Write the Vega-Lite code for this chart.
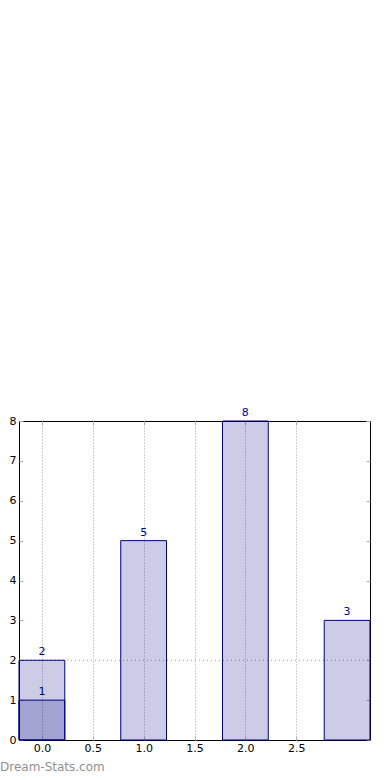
{
  "$schema": "https://vega.github.io/schema/vega-lite/v6.json",
  "width": 351,
  "height": 319,
  "autosize": {"type": "none"},
  "padding": {"left": 19, "top": 421, "right": 20, "bottom": 40},
  "background": "white",
  "config": {
    "view": {"stroke": "black", "strokeWidth": 1},
    "axis": {
      "domain": false,
      "labelFont": "DejaVu Sans",
      "labelFontSize": 11,
      "labelColor": "black",
      "tickColor": "#b0b0b0",
      "tickSize": -4,
      "tickWidth": 1,
      "title": null
    }
  },
  "title": {
    "text": "Dream-Stats.com",
    "orient": "bottom",
    "anchor": "start",
    "frame": "group",
    "dx": -19,
    "offset": 9,
    "font": "DejaVu Sans",
    "fontSize": 12,
    "fontWeight": "normal",
    "color": "#909090"
  },
  "datasets": {
    "bars": [
      {"lo": -0.225, "hi": 0.225, "c": 0, "v": 2},
      {"lo": -0.225, "hi": 0.225, "c": 0, "v": 1},
      {"lo": 0.775, "hi": 1.225, "c": 1, "v": 5},
      {"lo": 1.775, "hi": 2.225, "c": 2, "v": 8},
      {"lo": 2.775, "hi": 3.225, "c": 3, "v": 3}
    ],
    "hline": [{"y": 2, "a": -0.225, "b": 3.225}]
  },
  "layer": [
    {
      "data": {"name": "hline"},
      "mark": {"type": "rule", "strokeDash": [1, 3], "color": "#a0a0a0", "strokeWidth": 1},
      "encoding": {
        "x": {"field": "a", "type": "quantitative", "scale": {"domain": [-0.225, 3.225], "nice": false, "zero": false},
              "axis": {"orient": "top", "labels": false, "values": [0, 0.5, 1, 1.5, 2, 2.5], "grid": false}},
        "x2": {"field": "b"},
        "y": {"field": "y", "type": "quantitative", "scale": {"domain": [0, 8], "nice": false},
              "axis": {"orient": "right", "labels": false, "values": [0, 1, 2, 3, 4, 5, 6, 7, 8], "grid": false}}
      }
    },
    {
      "data": {"name": "bars"},
      "mark": {"type": "bar", "fill": "#000080", "fillOpacity": 0.2, "stroke": "#000080", "strokeWidth": 1},
      "encoding": {
        "x": {"field": "lo", "type": "quantitative", "scale": {"domain": [-0.225, 3.225], "nice": false, "zero": false},
              "axis": {"orient": "bottom", "values": [0, 0.5, 1, 1.5, 2, 2.5], "format": ".1f", "labelPadding": 6,
                       "grid": true, "gridDash": [1, 2], "gridColor": "#a0a0a0", "gridWidth": 1}},
        "x2": {"field": "hi"},
        "y": {"field": "v", "type": "quantitative", "scale": {"domain": [0, 8], "nice": false},
              "axis": {"orient": "left", "values": [0, 1, 2, 3, 4, 5, 6, 7, 8], "labelPadding": 7, "grid": false}},
        "y2": {"datum": 0}
      }
    },
    {
      "data": {"name": "bars"},
      "mark": {"type": "text", "baseline": "bottom", "dy": -3, "color": "#000099", "font": "DejaVu Sans", "fontSize": 11},
      "encoding": {
        "x": {"field": "c", "type": "quantitative", "axis": null},
        "y": {"field": "v", "type": "quantitative", "axis": null},
        "text": {"field": "v", "type": "quantitative"}
      }
    }
  ],
  "resolve": {"axis": {"x": "independent", "y": "independent"}}
}
